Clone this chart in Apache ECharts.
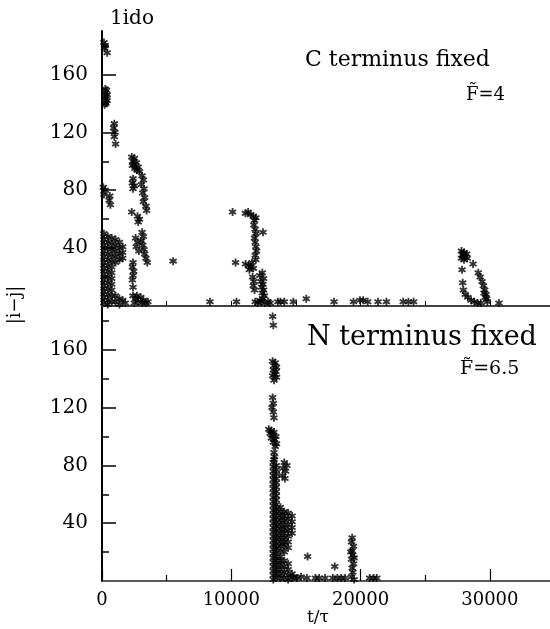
<!DOCTYPE html>
<html>
<head>
<meta charset="utf-8">
<script src="https://cdn.jsdelivr.net/npm/echarts@6/dist/echarts.min.js"></script>
<style>
  html, body { margin: 0; padding: 0; background: #fff; }
  #chart { width: 550px; height: 629px; }
</style>
</head>
<body>
<div id="chart"></div>
<script>
// ---- Data: [t/tau, |i-j|] ----
// C terminus fixed (top panel)
const cTermStart = [
  [150,182],[250,180],[200,178],[400,175],
  [250,150],[350,149],[200,147],[400,146],[300,145],[250,143],[400,142],[300,140],[200,139],
  [950,126],[900,123],[1000,120],[950,117],[1050,112],
  [100,82],[250,80],[150,77],[600,76],[550,73],[650,70],
  [150,50],[150,46],[150,42],[150,38],[150,34],[150,30],[150,26],[150,22],[150,18],[150,14],[150,10],[150,6],[150,2],
  [450,48],[450,44],[450,40],[450,36],[450,32],[450,28],[450,24],[450,20],[450,16],[450,12],[450,8],[450,4],[450,1],
  [750,47],[750,43],[750,39],[750,35],[750,31],[750,27],[750,23],[750,19],[750,15],[750,11],[750,7],[750,3],
  [1050,46],[1050,42],[1050,38],[1050,34],[1050,30],[1050,7],[1050,3],
  [1350,44],[1350,40],[1350,36],[1350,32],[1350,5],[1350,1],
  [1600,41],[1600,37],[1600,33],[1600,4],
  [1800,2]
];
const cTermSecond = [
  [2300,103],[2500,102],[2400,100],[2650,99],[2350,97],[2800,96],[2550,95],[2900,93],[2700,94],[2450,98],
  [2400,88],[2350,85],[2500,83],[2400,81],
  [3100,90],[3200,87],[3050,84],[3250,81],[3150,78],[3300,75],[3200,72],[3400,69],[3450,66],
  [2300,65],
  [2750,62],[2900,60],[2800,58],
  [3100,51],[3200,48],[3050,45],[3150,42],[3250,39],[3300,36],[3400,33],[3500,30],
  [2600,47],[2750,44],[2650,41],[2850,38],
  [2400,30],[2350,27],[2450,24],[2400,21],[2350,18],
  [2400,13],
  [2400,7],[2600,5],[2800,3],[3000,6],[3200,4],[3400,2],[2500,2],[3550,3],[2700,7],[3100,2],
  [5500,31],[8350,3],[10400,3]
];
const cTermThird = [
  [10100,65],[10330,30],
  [11100,64],[11300,65],[11500,63],[11700,62],[11900,61],
  [11800,59],[11750,56],[11850,53],[11900,50],[11800,47],[11850,44],[11900,41],[11950,38],[11850,35],[11900,32],
  [12450,51],
  [11100,29],[11350,28],[11500,27],[11700,26],[11400,25],[11600,30],
  [11650,20],[11750,17],[11700,14],[11800,11],
  [12400,23],[12200,21],[12500,19],[12300,17],[12450,15],[12350,13],[12500,11],[12400,9],[12550,7],[12450,5],[12200,4],
  [11850,3],[12050,2],[12300,3],[12600,2],[12850,3],[13000,2],
  [13600,3],[13800,3],[14100,3],[14800,3],[15800,5],
  [17950,3],[19450,3],[19950,4],[20200,4],[20550,3],[21350,3],[22000,3],[23300,3],[23700,3],[24100,3]
];
const cTermLate = [
  [27800,38],[28000,37],[28200,36],[27900,35],[28100,34],[27800,33],[28000,32],[28250,33],[27950,36],
  [28700,29],[27850,25],
  [29100,23],[29250,20],[29400,17],[29500,14],[29600,11],[29700,8],[29750,5],[29800,3],[29550,9],[29650,6],
  [27900,16],
  [27950,11],[28100,8],[28300,6],[28550,4],[28800,3],[29050,2],[29300,2],
  [30700,2]
];
// N terminus fixed (bottom panel)
const nTermHigh = [
  [13200,183],[13250,177],
  [13200,152],[13400,151],[13300,149],[13500,148],[13250,146],[13450,145],[13350,143],[13200,142],[13500,141],[13300,139],
  [13200,127],[13250,123],[13150,120],[13250,117],[13300,113],
  [12900,105],[13100,104],[13300,103],[13000,102],[13200,101],[13450,100],[13100,99],[13350,98],[13250,96],[13500,95],[13400,93],
  [13300,89],[13350,86],[13300,84]
];
const nTermColumn = [
  [13250,82],[13250,79],[13250,76],[13250,73],[13250,70],[13250,67],[13250,64],[13250,61],[13250,58],[13250,55],
  [13250,52],[13250,49],[13250,46],[13250,43],[13250,40],[13250,37],[13250,34],[13250,31],[13250,28],[13250,25],
  [13250,22],[13250,19],[13250,16],[13250,13],[13250,10],[13250,7],[13250,4],[13250,1],
  [13480,80],[13480,77],[13480,74],[13480,71],[13480,68],[13480,65],[13480,62],[13480,59],[13480,56],[13480,53],
  [13480,50],[13480,47],[13480,44],[13480,41],[13480,38],[13480,35],[13480,32],[13480,29],[13480,26],[13480,23],
  [13480,20],[13480,17],[13480,14],[13480,11],[13480,8],[13480,5],[13480,2]
];
const nTermBlob = [
  [14100,82],[14300,80],[14000,78],[14200,76],[13950,73],[14150,71],
  [13800,51],[13800,48],[13800,45],[13800,42],[13800,39],[13800,36],[13800,33],[13800,30],[13800,27],[13800,24],[13800,21],[13800,17],
  [14100,48],[14100,45],[14100,42],[14100,39],[14100,36],[14100,33],[14100,30],[14100,27],[14100,24],[14100,20],
  [14400,47],[14400,43],[14400,39],[14400,35],[14400,31],[14400,27],[14400,23],
  [14700,45],[14700,41],[14700,37],[14700,33],
  [13800,14],[13800,11],[13800,8],[13800,5],[13800,2],
  [14100,14],[14100,10],[14100,6],[14100,2],
  [14400,12],[14400,8],[14400,4],[14400,1],
  [14700,5],[14700,2]
];
const nTermTail = [
  [14800,3],[15100,2],[15400,3],[15850,2],[15900,17],
  [16500,2],[16800,2],[17250,2],[17850,2],[18200,2],[18500,2],[18800,2],[18000,10],
  [19350,30],[19300,27],[19450,24],[19350,21],[19250,20],[19400,18],[19500,16],[19300,15],[19450,12],[19350,9],[19400,6],[19300,3],[19500,1],
  [20700,2],[21000,2],[21250,2]
];

const xMajorTicks = [0, 10000, 20000, 30000];
const xMinorTicks = [5000, 15000, 25000];
const xTopPanelTicks = [5000, 10000, 15000, 20000, 25000, 30000];
const yMajorTicks = [40, 80, 120, 160];
const yMinorTicks = [20, 60, 100, 140, 180];

const cTerminus = cTermStart.concat(cTermSecond, cTermThird, cTermLate);
const nTerminus = nTermHigh.concat(nTermColumn, nTermBlob, nTermTail);

const STAR = 'path://M-2.2,-10L2.2,-10L2.2,10L-2.2,10Z' +
  'M7.56,-6.91L9.76,-3.10L-7.56,6.91L-9.76,3.10Z' +
  'M-9.76,-3.10L-7.56,-6.91L9.76,3.10L7.56,6.91Z';

const FONT = 'DejaVu Serif';
const XMAX = 34650;

function yMain(grid, max) {
  return {
    type: 'value', gridIndex: grid, min: 0, max: max, position: 'left',
    splitLine: { show: false },
    axisLine: { show: true, lineStyle: { color: '#000', width: 2 } },
    axisTick: { show: true, inside: true, length: 14, customValues: yMajorTicks, lineStyle: { color: '#000', width: 1.5 } },
    axisLabel: { show: true, customValues: yMajorTicks, margin: 14, color: '#000', fontFamily: FONT, fontSize: 20 }
  };
}
function yMinor(grid, max) {
  return {
    type: 'value', gridIndex: grid, min: 0, max: max, position: 'left',
    splitLine: { show: false },
    axisLine: { show: false },
    axisTick: { show: true, inside: true, length: 7, customValues: yMinorTicks, lineStyle: { color: '#000', width: 1.5 } },
    axisLabel: { show: false }
  };
}

const option = {
  backgroundColor: '#fff',
  animation: false,
  grid: [
    { left: 102, top: 31, right: 0, height: 275 },
    { left: 102, top: 305, right: 0, height: 276 }
  ],
  xAxis: [
    { type: 'value', gridIndex: 0, min: 0, max: XMAX, position: 'bottom',
      splitLine: { show: false },
      axisLine: { show: true, lineStyle: { color: '#444', width: 1.5 } },
      axisTick: { show: true, inside: true, length: 5, customValues: xTopPanelTicks, lineStyle: { color: '#000' } },
      axisLabel: { show: false } },
    { type: 'value', gridIndex: 0, min: 0, max: XMAX, position: 'top',
      splitLine: { show: false },
      axisLine: { show: true, lineStyle: { color: '#333', width: 1.5 } },
      axisTick: { show: false }, axisLabel: { show: false } },
    { type: 'value', gridIndex: 1, min: 0, max: XMAX, position: 'bottom',
      splitLine: { show: false },
      axisLine: { show: true, lineStyle: { color: '#222', width: 1.5 } },
      axisTick: { show: true, inside: true, length: 12, customValues: xMajorTicks, lineStyle: { color: '#000', width: 1.2 } },
      axisLabel: { show: true, customValues: xMajorTicks, margin: 10, color: '#000', fontFamily: FONT, fontSize: 18,
        formatter: function (v) { return String(v); } } },
    { type: 'value', gridIndex: 1, min: 0, max: XMAX, position: 'bottom',
      splitLine: { show: false },
      axisLine: { show: false },
      axisTick: { show: true, inside: true, length: 6, customValues: xMinorTicks, lineStyle: { color: '#000', width: 1.2 } },
      axisLabel: { show: false } }
  ],
  yAxis: [
    yMain(0, 190), yMinor(0, 190),
    yMain(1, 191), yMinor(1, 191)
  ],
  series: [
    { type: 'scatter', xAxisIndex: 0, yAxisIndex: 0, data: cTerminus,
      symbol: STAR, symbolSize: 8, itemStyle: { color: '#000' }, clip: false },
    { type: 'scatter', xAxisIndex: 2, yAxisIndex: 2, data: nTerminus,
      symbol: STAR, symbolSize: 8, itemStyle: { color: '#000' }, clip: false }
  ],
  graphic: [
    { type: 'text', left: 110, top: 9, style: { text: '1ido', fontFamily: FONT, fontSize: 20, fill: '#000' } },
    { type: 'text', left: 305, top: 49, style: { text: 'C terminus fixed', fontFamily: FONT, fontSize: 22, fill: '#000' } },
    { type: 'text', left: 466, top: 86, style: { text: 'F\u0303=4', fontFamily: FONT, fontSize: 18, fill: '#000' } },
    { type: 'text', left: 307, top: 324, style: { text: 'N terminus fixed', fontFamily: FONT, fontSize: 27, fill: '#000' } },
    { type: 'text', left: 460, top: 360, style: { text: 'F\u0303=6.5', fontFamily: FONT, fontSize: 19, fill: '#000' } },
    { type: 'text', x: 318, y: 618, style: { text: 't/\u03c4', fontFamily: FONT, fontSize: 17, fill: '#000', align: 'center', verticalAlign: 'middle' } },
    { type: 'text', x: 15, y: 305, rotation: Math.PI / 2, style: { text: '|i\u2212j|', fontFamily: FONT, fontSize: 18, fill: '#000', align: 'center', verticalAlign: 'middle' } }
  ]
};

const chart = echarts.init(document.getElementById('chart'), null, { renderer: 'canvas' });
chart.setOption(option);
</script>
</body>
</html>
